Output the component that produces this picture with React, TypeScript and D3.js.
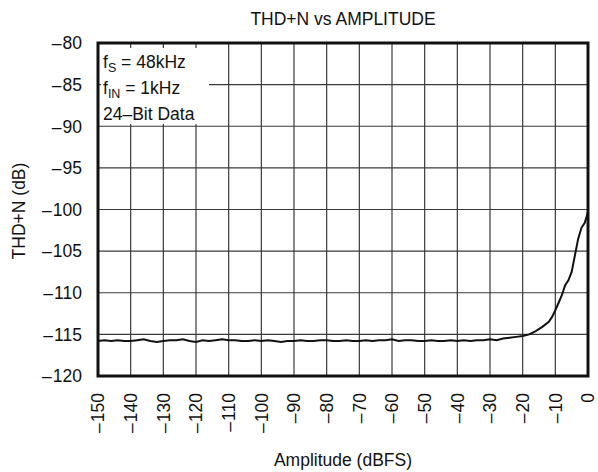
import React from "react";
import * as d3 from "d3";

const amplitude: number[] = [
  -150, -148, -146, -144, -142, -140, -138, -136, -134, -132, -130, -128, -126, -124, -122, -120,
  -118, -116, -114, -112, -110, -108, -106, -104, -102, -100, -98, -96, -94, -92, -90, -88, -86,
  -84, -82, -80, -78, -76, -74, -72, -70, -68, -66, -64, -62, -60, -58, -56, -54, -52, -50, -48,
  -46, -44, -42, -40, -38, -36, -34, -32, -30, -28, -26, -24, -22, -20, -18, -16, -14, -12, -11,
  -10, -9, -8, -7, -6, -5, -4, -3, -2, -1, 0,
];
const thdn: number[] = [
  -115.8, -115.7, -115.8, -115.7, -115.8, -115.8, -115.7, -115.6, -115.8, -115.9, -115.8, -115.7,
  -115.7, -115.6, -115.8, -115.9, -115.7, -115.8, -115.7, -115.6, -115.7, -115.7, -115.8, -115.8,
  -115.7, -115.8, -115.7, -115.8, -115.9, -115.8, -115.8, -115.7, -115.8, -115.8, -115.7, -115.7,
  -115.8, -115.8, -115.7, -115.8, -115.8, -115.7, -115.8, -115.7, -115.7, -115.6, -115.8, -115.7,
  -115.7, -115.8, -115.8, -115.7, -115.8, -115.8, -115.7, -115.8, -115.7, -115.8, -115.7, -115.7,
  -115.6, -115.7, -115.5, -115.4, -115.3, -115.2, -115.0, -114.6, -114.1, -113.5, -112.9, -112.1,
  -111.2, -110.3, -109.1, -108.5, -107.5, -105.5, -103.5, -102.2, -101.6, -100.3,
];
const xTicks: number[] = d3.range(-150, 1, 10);
const yTicks: number[] = d3.range(-120, -79, 5);
const legendLines: { main: string; sub: string; rest: string }[] = [
  { main: "f", sub: "S", rest: " = 48kHz" },
  { main: "f", sub: "IN", rest: " = 1kHz" },
  { main: "24\u2013Bit Data", sub: "", rest: "" },
];

const W = 598, H = 472;
const L = 98, R = 588, T = 43, B = 376;
const FONT = "'Liberation Sans', Arial, sans-serif";
const FS = 17.5;

export default function App() {
  const x = d3.scaleLinear().domain([-150, 0]).range([L, R]);
  const y = d3.scaleLinear().domain([-120, -80]).range([B, T]);
  const pts = amplitude.map((a, i) => [a, thdn[i]] as [number, number]);
  const line = d3.line<[number, number]>().x((d) => x(d[0])).y((d) => y(d[1]));
  const num = (v: number) => String(Math.abs(v));

  return (
    <svg width={W} height={H} style={{ position: "absolute", left: 0, top: 0, background: "#fff" }} fontFamily={FONT}>
      <rect x={0} y={0} width={W} height={H} fill="#fff" />
      {xTicks.map((t) => (
        <line key={"gx" + t} x1={x(t)} x2={x(t)} y1={T} y2={B} stroke="#3a3a3a" strokeWidth={1.2} />
      ))}
      {yTicks.map((t) => (
        <line key={"gy" + t} x1={L} x2={R} y1={y(t)} y2={y(t)} stroke="#3a3a3a" strokeWidth={1.2} />
      ))}
      <rect x={L + 3} y={T + 5} width={108} height={76} fill="#fff" />
      {legendLines.map((l, i) => (
        <text key={"lt" + i} x={L + 5} y={68 + i * 26} fontSize={FS} fill="#111">
          {l.main}
          {l.sub && <tspan fontSize={12.5} dy={4}>{l.sub}</tspan>}
          {l.rest && <tspan dy={l.sub ? -4 : 0}>{l.rest}</tspan>}
        </text>
      ))}
      <path d={line(pts) || ""} fill="none" stroke="#111" strokeWidth={2} />
      <rect x={L} y={T} width={R - L} height={B - T} fill="none" stroke="#111" strokeWidth={3} />
      {yTicks.map((t) => (
        <text key={"ty" + t} x={82} y={y(t) + 6.3} textAnchor="end" fontSize={FS} fill="#111">
          {t < 0 && <tspan>{"\u2013"}</tspan>}
          <tspan dx={t < 0 ? 1 : 0}>{num(t)}</tspan>
        </text>
      ))}
      {xTicks.map((t) => (
        <text
          key={"tx" + t}
          transform={`translate(${x(t) + 6.3},${393}) rotate(-90)`}
          textAnchor="end"
          fontSize={FS}
          fill="#111"
        >
          {t < 0 && <tspan>{"\u2013"}</tspan>}
          <tspan dx={t < 0 ? 1 : 0}>{num(t)}</tspan>
        </text>
      ))}
      <text x={343} y={25} textAnchor="middle" fontSize={FS} fill="#111">THD+N vs AMPLITUDE</text>
      <text x={343} y={466} textAnchor="middle" fontSize={FS} fill="#111">Amplitude (dBFS)</text>
      <text transform={`translate(25,${211}) rotate(-90)`} textAnchor="middle" fontSize={FS} fill="#111">
        THD+N (dB)
      </text>
    </svg>
  );
}
